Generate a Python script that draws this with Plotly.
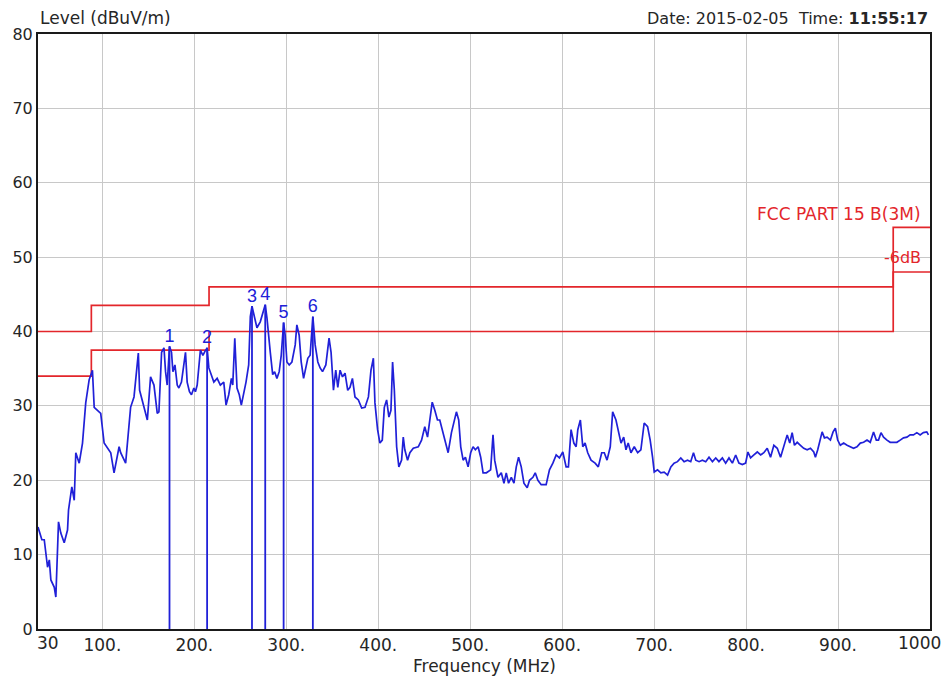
import plotly.graph_objects as go

# Measured radiated emission trace (frequency in MHz, level in dBuV/m)
freq_mhz = [
    30.0, 34.2, 36.8, 40.4, 42.3, 44.0, 47.7, 49.4, 52.3, 54.8,
    58.5, 62.1, 63.2, 66.8, 69.4, 71.1, 74.8, 78.4, 81.9, 85.6,
    89.2, 91.1, 98.2, 101.9, 109.1, 112.7, 118.2, 119.9, 125.3, 130.7,
    134.4, 139.1, 140.5, 143.4, 148.9, 152.4, 156.1, 159.7, 161.5, 164.4,
    167.0, 168.7, 170.5, 173.0, 175.2, 176.7, 178.9, 181.4, 183.2, 186.0,
    188.6, 190.4, 192.2, 194.7, 196.9, 199.5, 201.2, 203.1, 206.6, 209.3,
    211.4, 213.9, 215.8, 218.6, 221.2, 224.8, 228.3, 232.0, 234.5, 237.4,
    240.3, 241.8, 244.0, 246.4, 248.9, 251.1, 253.7, 256.2, 259.1, 260.9,
    262.7, 265.6, 268.1, 271.7, 274.3, 277.1, 279.0, 280.8, 282.6, 285.2,
    287.3, 289.8, 292.3, 294.5, 297.1, 298.8, 300.7, 303.2, 306.1, 309.7,
    311.5, 314.0, 316.2, 318.8, 321.3, 323.4, 325.9, 328.9, 331.4, 334.3,
    336.8, 339.4, 343.0, 346.5, 348.7, 351.3, 353.8, 356.0, 358.5, 361.1,
    363.9, 366.8, 369.3, 371.9, 374.7, 378.4, 382.0, 385.6, 389.3, 392.1,
    394.7, 396.4, 399.3, 401.8, 404.4, 406.6, 409.1, 411.6, 413.8, 415.6,
    417.5, 420.0, 422.4, 425.4, 427.2, 428.9, 431.9, 434.4, 438.1, 443.5,
    447.1, 450.6, 453.6, 456.1, 458.7, 461.5, 464.4, 466.9, 469.5, 472.3,
    476.0, 479.6, 482.5, 485.0, 487.5, 489.7, 492.3, 494.8, 497.7, 500.5,
    503.1, 505.6, 508.6, 511.4, 514.0, 517.6, 522.2, 524.8, 526.6, 530.2,
    533.8, 536.7, 539.2, 541.7, 544.7, 547.6, 550.1, 552.6, 555.5, 558.4,
    562.0, 564.5, 568.2, 570.7, 573.6, 577.2, 582.6, 586.2, 589.9, 593.5,
    597.0, 600.7, 604.3, 606.8, 609.7, 612.7, 615.2, 617.0, 619.8, 622.4,
    624.9, 627.8, 631.4, 635.8, 639.3, 643.0, 645.8, 648.8, 652.3, 654.9,
    658.5, 661.0, 664.0, 666.9, 669.4, 671.8, 674.8, 678.4, 682.1, 685.6,
    689.2, 692.9, 695.7, 698.3, 700.1, 703.7, 707.3, 710.9, 714.6, 718.2,
    721.7, 725.4, 729.0, 732.6, 736.3, 739.8, 742.8, 745.3, 748.9, 752.5,
    756.1, 759.7, 763.4, 767.0, 770.5, 774.2, 777.8, 781.4, 785.1, 788.7,
    792.2, 795.9, 799.5, 802.0, 804.9, 808.5, 812.2, 815.8, 819.3, 823.0,
    826.6, 830.2, 833.9, 837.5, 841.0, 844.7, 847.5, 850.1, 852.6, 855.6,
    859.1, 862.7, 866.4, 870.0, 873.6, 875.4, 877.9, 880.8, 882.7, 885.2,
    888.1, 891.7, 894.6, 897.1, 899.6, 902.5, 906.1, 909.8, 913.4, 916.9,
    920.6, 924.2, 927.8, 931.5, 935.0, 938.6, 941.6, 944.0, 946.7, 949.5,
    953.2, 956.7, 960.3, 964.0, 967.6, 971.2, 974.9, 978.4, 982.0, 985.7,
    989.3, 992.8, 996.5, 998.3,
]
level_dbuv = [
    13.7, 12.0, 12.0, 8.3, 9.3, 6.6, 5.6, 4.3, 14.4, 12.9,
    11.6, 13.3, 16.0, 19.1, 17.3, 23.7, 22.3, 25.0, 30.4, 33.5,
    34.8, 29.8, 29.0, 25.0, 23.7, 21.0, 24.5, 23.7, 22.3, 29.8,
    31.2, 37.1, 32.1, 30.8, 28.1, 33.9, 32.8, 29.0, 29.2, 37.2,
    37.8, 34.6, 32.8, 38.0, 37.2, 34.6, 35.5, 32.8, 32.4, 33.2,
    35.5, 37.2, 33.2, 31.9, 31.5, 32.4, 31.9, 32.8, 37.5, 36.8,
    37.3, 37.8, 35.1, 34.2, 33.2, 33.7, 32.8, 33.2, 30.1, 31.5,
    33.7, 32.8, 39.1, 32.4, 31.5, 30.1, 31.5, 33.2, 35.5, 42.0,
    43.4, 41.8, 40.5, 41.3, 42.6, 43.6, 41.8, 39.1, 37.2, 34.2,
    34.6, 33.7, 34.6, 36.8, 41.2, 39.5, 35.9, 35.5, 35.9, 38.2,
    40.9, 39.5, 35.9, 33.7, 35.1, 36.4, 36.8, 42.0, 38.2, 35.9,
    35.1, 34.6, 35.5, 39.1, 37.2, 32.1, 34.8, 32.5, 34.8, 33.9,
    34.4, 32.1, 32.5, 33.7, 31.2, 30.8, 29.7, 29.8, 31.2, 34.8,
    36.4, 30.4, 26.8, 25.0, 25.4, 29.8, 30.8, 28.5, 29.4, 35.9,
    32.1, 24.5, 21.8, 22.7, 25.8, 24.1, 22.7, 23.7, 24.3, 24.5,
    25.4, 27.2, 25.8, 28.1, 30.5, 29.4, 28.1, 28.1, 26.8, 25.4,
    23.7, 26.4, 28.1, 29.2, 28.1, 24.5, 22.7, 23.1, 21.8, 23.7,
    24.5, 24.1, 24.5, 23.1, 21.0, 21.0, 21.4, 26.1, 22.7, 20.4,
    21.0, 19.6, 21.0, 19.6, 20.4, 19.6, 21.8, 23.1, 21.8, 19.6,
    19.0, 20.0, 20.4, 21.0, 20.0, 19.4, 19.4, 21.4, 22.3, 23.4,
    23.0, 23.8, 21.8, 21.8, 26.8, 25.0, 24.5, 26.8, 28.1, 24.5,
    25.0, 23.7, 22.7, 22.3, 21.8, 23.7, 23.7, 22.7, 24.5, 29.2,
    28.1, 26.8, 25.0, 25.8, 24.1, 25.0, 23.7, 24.5, 23.7, 24.1,
    27.7, 27.2, 25.4, 23.1, 21.1, 21.4, 21.0, 21.1, 20.7, 21.8,
    22.3, 22.5, 23.0, 22.5, 22.7, 22.5, 23.7, 22.7, 22.5, 22.7,
    22.5, 23.1, 22.5, 23.0, 22.5, 23.0, 22.3, 23.0, 22.3, 23.4,
    22.3, 22.1, 22.3, 23.8, 23.0, 23.4, 23.8, 23.4, 23.7, 24.3,
    23.1, 24.7, 24.3, 23.1, 24.5, 26.1, 25.0, 26.4, 24.7, 25.1,
    24.7, 24.3, 24.1, 24.3, 23.8, 23.1, 24.1, 25.4, 26.5, 25.7,
    25.8, 25.4, 26.5, 27.0, 25.4, 24.7, 25.0, 24.7, 24.5, 24.3,
    24.5, 25.0, 25.1, 25.4, 25.1, 26.5, 25.4, 25.4, 26.4, 25.8,
    25.4, 25.1, 25.1, 25.1, 25.4, 25.7, 25.8, 26.1, 26.1, 26.4,
    26.1, 26.4, 26.5, 26.1,
]

# FCC Part 15 Class B (3 m) limit and the -6 dB margin line
limit_freq = [30, 88, 216, 960, 1000]
limit_level = [40.0, 43.5, 46.0, 54.0, 54.0]
margin_level = [34.0, 37.5, 40.0, 48.0, 48.0]

# Peak markers
marker_label = ["1", "2", "3", "4", "5", "6"]
marker_freq = [173.0, 213.9, 262.7, 277.1, 297.1, 328.9]
marker_level = [38.0, 37.8, 43.4, 43.6, 41.2, 42.0]

# Axis ticks
x_tick_vals = [100, 200, 300, 400, 500, 600, 700, 800, 900]
x_tick_text = ["100.", "200.", "300.", "400.", "500.", "600.", "700.", "800.", "900."]
y_tick_vals = [0, 10, 20, 30, 40, 50, 60, 70, 80]

RED = "#e3262b"
BLUE = "#2020d8"
TEXT = "#262626"
FONT = "DejaVu Sans"

fig = go.Figure()

fig.add_trace(go.Scatter(
    x=limit_freq, y=limit_level, mode="lines",
    line=dict(color=RED, width=1.7, shape="hv"), hoverinfo="skip",
))
fig.add_trace(go.Scatter(
    x=limit_freq, y=margin_level, mode="lines",
    line=dict(color=RED, width=1.7, shape="hv"), hoverinfo="skip",
))

stem_x, stem_y = [], []
for f, lv in zip(marker_freq, marker_level):
    stem_x += [f, f, None]
    stem_y += [0, lv, None]
fig.add_trace(go.Scatter(
    x=stem_x, y=stem_y, mode="lines",
    line=dict(color=BLUE, width=1.8), hoverinfo="skip",
))

fig.add_trace(go.Scatter(
    x=freq_mhz, y=level_dbuv, mode="lines",
    line=dict(color=BLUE, width=1.7),
))

fig.add_trace(go.Scatter(
    x=marker_freq, y=marker_level, mode="text", text=marker_label,
    textposition="top center",
    textfont=dict(family="Liberation Sans", size=18, color=BLUE),
    hoverinfo="skip",
))

axis_common = dict(
    showgrid=True, gridcolor="#c8c8c8", gridwidth=1,
    showline=True, mirror=True, linecolor="#1a1a1a", linewidth=2,
    ticks="", zeroline=False,
    tickfont=dict(family=FONT, size=17, color=TEXT),
)

fig.update_layout(
    width=952, height=684,
    margin=dict(l=36, r=22, t=34, b=55),
    paper_bgcolor="white", plot_bgcolor="white",
    showlegend=False,
    xaxis=dict(range=[30, 1000], tickvals=x_tick_vals, ticktext=x_tick_text, **axis_common),
    yaxis=dict(range=[0, 80], tickvals=y_tick_vals, **{**axis_common, "tickfont": dict(family=FONT, size=16, color=TEXT)}),
)

annotations = [
    dict(text="Level (dBuV/m)", xref="paper", yref="paper", x=0, y=1,
         xanchor="left", yanchor="bottom", yshift=4, showarrow=False,
         font=dict(family=FONT, size=17, color=TEXT)),
    dict(text="Date: 2015-02-05  Time: <b>11:55:17</b>", xref="paper", yref="paper", x=1, y=1,
         xanchor="right", yanchor="bottom", yshift=4, showarrow=False,
         font=dict(family=FONT, size=16, color=TEXT)),
    dict(text="Frequency (MHz)", xref="paper", yref="paper", x=0.5, y=0,
         xanchor="center", yanchor="top", yshift=-25, showarrow=False,
         font=dict(family=FONT, size=17, color=TEXT)),
    dict(text="30", xref="x", yref="paper", x=30, y=0,
         xanchor="left", yanchor="top", xshift=-3, yshift=-2, showarrow=False,
         font=dict(family=FONT, size=17, color=TEXT)),
    dict(text="1000", xref="x", yref="paper", x=1000, y=0,
         xanchor="right", yanchor="top", xshift=13, yshift=-2, showarrow=False,
         font=dict(family=FONT, size=17, color=TEXT)),
    dict(text="FCC PART 15 B(3M)", xref="paper", yref="y", x=1, y=55.8,
         xanchor="right", yanchor="middle", xshift=-7, showarrow=False,
         font=dict(family=FONT, size=17, color=RED)),
    dict(text="-6dB", xref="paper", yref="y", x=1, y=49.9,
         xanchor="right", yanchor="middle", xshift=-7, showarrow=False,
         font=dict(family=FONT, size=16, color=RED)),
]
fig.update_layout(annotations=annotations)

fig.write_html("out.html")
